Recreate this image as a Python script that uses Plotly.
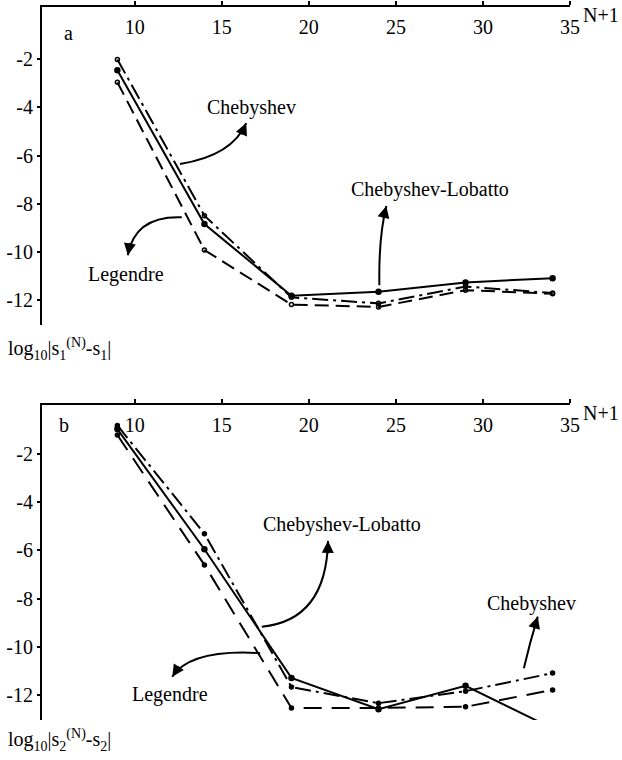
import math
import plotly.graph_objects as go
from plotly.subplots import make_subplots

# ---------------- data ----------------
N_POINTS = [9, 14, 19, 24, 29, 34]

# panel a : log10|s1(N) - s1|
a_lobatto = [-2.45, -8.85, -11.83, -11.67, -11.28, -11.10]
a_cheb = [-2.00, -8.50, -11.90, -12.15, -11.45, -11.72]
a_leg = [-2.95, -9.93, -12.20, -12.30, -11.60, -11.75]

# panel b : log10|s2(N) - s2|
b_lobatto = [-0.95, -5.95, -11.30, -12.60, -11.63, -13.40]
b_cheb = [-0.80, -5.30, -11.68, -12.35, -11.85, -11.10]
b_leg = [-1.20, -6.60, -12.55, -12.55, -12.50, -11.80]

X_TICKS = [10, 15, 20, 25, 30, 35]
Y_TICKS = [-2, -4, -6, -8, -10, -12]
Y_TICK_TEXT = ["-2", "-4", "-6", "-8", "-10", "-12"]

FONT = "Liberation Serif"
FS = 20
W, H = 622, 760
ML, MR = 42, 622 - 570
X_RANGE = [4.67, 35]
Y_RANGE_A = [-13.05, 0.18]
Y_RANGE_B = [-13.05, 0.05]
PX_PER_X = (W - ML - MR) / (X_RANGE[1] - X_RANGE[0])
PX_PER_Y = 24.05


def px(xr):
    return (xr - ML) / (W - ML - MR)


def py(yr):
    return 1 - yr / H


fig = make_subplots(rows=2, cols=1, vertical_spacing=0.1)

series = [
    (1, a_lobatto, "Chebyshev-Lobatto", "solid", "circle", 5),
    (1, a_cheb, "Chebyshev", "16px,5px,3px,5px", "circle-open", 4),
    (1, a_leg, "Legendre", "14px,7px", "circle-open", 4),
    (2, b_lobatto, "Chebyshev-Lobatto", "solid", "circle", 5),
    (2, b_cheb, "Chebyshev", "16px,5px,3px,5px", "circle", 4),
    (2, b_leg, "Legendre", "18px,10px", "circle", 4),
]
for row, ys, name, dash, sym, msize in series:
    fig.add_trace(
        go.Scatter(
            x=N_POINTS, y=ys, mode="lines+markers", name=name,
            line=dict(color="black", width=2, dash=dash),
            marker=dict(color="black", size=msize, symbol=sym, line=dict(color="black", width=1.5)),
            showlegend=False,
        ),
        row=row, col=1,
    )

# axes
for r, yr in ((1, Y_RANGE_A), (2, Y_RANGE_B)):
    fig.update_xaxes(
        row=r, col=1, range=X_RANGE, side="top", showgrid=False, zeroline=False,
        showline=True, linecolor="black", linewidth=2, automargin=False,
        tickvals=X_TICKS, ticks="outside", ticklen=4, tickwidth=2, tickcolor="black",
        ticklabelposition="inside", ticklabelstandoff=14, ticklabeloverflow="allow",
        tickfont=dict(family=FONT, size=FS, color="black"),
    )
    fig.update_yaxes(
        row=r, col=1, range=yr, showgrid=False, zeroline=False,
        showline=True, linecolor="black", linewidth=2, automargin=False,
        tickvals=Y_TICKS, ticktext=Y_TICK_TEXT, ticks="outside", ticklen=3, tickwidth=2,
        tickcolor="black", ticklabelstandoff=0,
        tickfont=dict(family=FONT, size=FS, color="black"),
    )

fig.update_layout(
    width=W, height=H, paper_bgcolor="white", plot_bgcolor="white",
    margin=dict(l=ML, r=MR, t=0, b=0, autoexpand=False),
    font=dict(family=FONT, color="black"),
)
fig.layout.yaxis.domain = [py(325), py(7)]
fig.layout.yaxis2.domain = [py(720), py(405)]


def curved_arrow(xref, yref, p0, c, p1):
    path = f"M {p0[0]},{p0[1]} Q {c[0]},{c[1]} {p1[0]},{p1[1]}"
    fig.add_shape(type="path", path=path, xref=xref, yref=yref,
                  line=dict(color="black", width=2))
    dx = (p1[0] - c[0]) * PX_PER_X
    dy = -(p1[1] - c[1]) * PX_PER_Y
    n = math.hypot(dx, dy)
    L = 14
    fig.add_annotation(x=p1[0], y=p1[1], xref=xref, yref=yref,
                       ax=-dx / n * L, ay=-dy / n * L, text="", showarrow=True,
                       arrowhead=2, arrowsize=1.2, arrowwidth=2, arrowcolor="black")


def label(xref, yref, x, y, text, size=FS):
    fig.add_annotation(x=x, y=y, xref=xref, yref=yref, text=text, showarrow=False,
                       xanchor="center", yanchor="middle",
                       font=dict(family=FONT, size=size, color="black"))


# panel a labels and arrows
label("x", "y", 6.2, -0.9, "a")
label("x", "y", 16.7, -4.0, "Chebyshev")
label("x", "y", 26.95, -7.4, "Chebyshev-Lobatto")
label("x", "y", 9.5, -10.95, "Legendre")
curved_arrow("x", "y", (12.6, -6.35), (15.6, -6.0), (16.4, -4.65))
curved_arrow("x", "y", (12.7, -8.57), (10.0, -8.5), (9.6, -10.15))
curved_arrow("x", "y", (24.05, -11.4), (24.0, -9.4), (24.45, -8.1))

# panel b labels and arrows
label("x2", "y2", 5.93, -0.8, "b")
label("x2", "y2", 21.9, -4.9, "Chebyshev-Lobatto")
label("x2", "y2", 32.8, -8.2, "Chebyshev")
label("x2", "y2", 12.0, -12.0, "Legendre")
curved_arrow("x2", "y2", (17.3, -9.17), (21.0, -8.9), (21.1, -5.6))
curved_arrow("x2", "y2", (17.2, -10.27), (13.2, -10.1), (12.15, -11.25))
curved_arrow("x2", "y2", (32.35, -10.9), (32.7, -9.8), (33.15, -8.75))

# N+1 labels
for yref_px in (15, 413):
    fig.add_annotation(x=px(601), y=py(yref_px), xref="paper", yref="paper",
                       xanchor="center", yanchor="middle",
                       text="N+1", showarrow=False, font=dict(family=FONT, size=FS, color="black"))

# y-axis quantity labels
fig.add_annotation(x=px(6), y=py(349), xref="paper", yref="paper",
                   xanchor="left", yanchor="middle",
                   text="log<sub>10</sub>|s<sub>1</sub><sup>(N)</sup>-s<sub>1</sub>|",
                   showarrow=False, font=dict(family=FONT, size=FS, color="black"))
fig.add_annotation(x=px(6), y=py(740), xref="paper", yref="paper",
                   xanchor="left", yanchor="middle",
                   text="log<sub>10</sub>|s<sub>2</sub><sup>(N)</sup>-s<sub>2</sub>|",
                   showarrow=False, font=dict(family=FONT, size=FS, color="black"))

fig.write_html(
    "out.html",
    config={"displayModeBar": False},
    post_script="document.body.style.margin='0px';document.body.style.overflow='hidden';",
)
